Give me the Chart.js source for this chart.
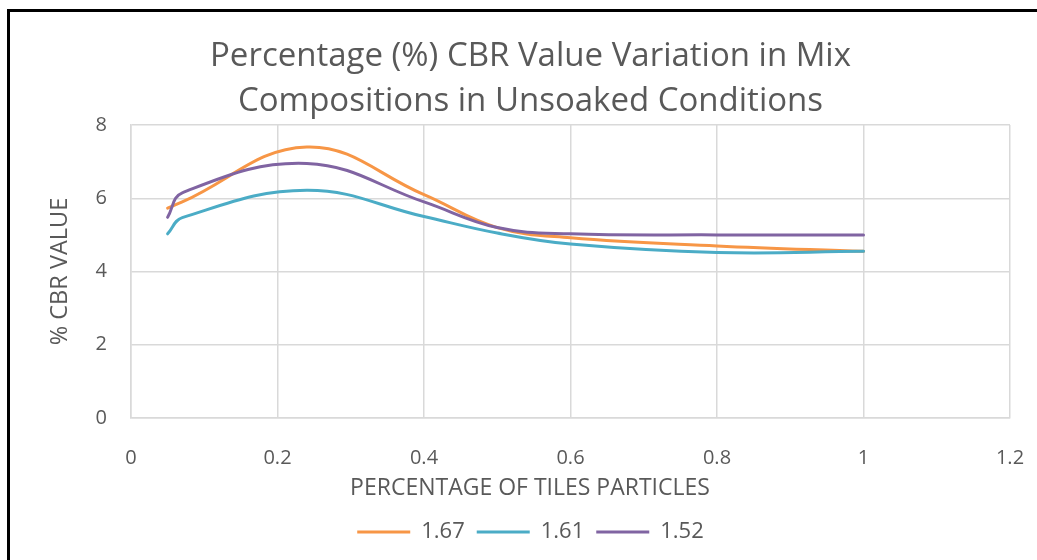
<!DOCTYPE html>
<html>
<head>
<meta charset="utf-8">
<script src="https://cdn.jsdelivr.net/npm/chart.js@4.4.1/dist/chart.umd.min.js"></script>
<style>
    html, body { margin: 0; padding: 0; background: #fff; }
    .wrap { position: relative; width: 1037px; height: 560px; overflow: hidden; }
    .frame { position: absolute; left: 7px; top: 9px; width: 1100px; height: 600px;
             border-top: 3px solid #000; border-left: 3px solid #000; }
    canvas { position: absolute; left: 0; top: 0; }
</style>
</head>
<body>
<div class="wrap">
    <div class="frame"></div>
    <canvas id="chart" width="1037" height="560"></canvas>
</div>
<script>
const TEXT_COLOR = '#595959';
const GRID_COLOR = '#D9D9D9';
const FONT = "'Open Sans', 'Noto Sans', sans-serif";

// % of tiles particles
const tilesPct = [0.05, 0.07, 0.24, 0.4, 0.5, 0.6, 0.8, 1.0];
const cbr167 = [5.73, 5.9, 7.4, 6.1, 5.2, 4.92, 4.7, 4.55];
const cbr161 = [5.03, 5.47, 6.22, 5.5, 5.05, 4.75, 4.52, 4.55];
const cbr152 = [5.48, 6.15, 6.95, 5.9, 5.2, 5.03, 5.0, 5.0];
const seriesNames = ['1.67', '1.61', '1.52'];
const seriesColors = ['#F79646', '#4BACC6', '#8064A2'];
const xTickLabels = ['0', '0.2', '0.4', '0.6', '0.8', '1', '1.2'];
const yTickLabels = ['0', '2', '4', '6', '8'];
const X_TITLE = 'PERCENTAGE OF TILES PARTICLES';

const toPoints = values => values.map((v, i) => ({x: tilesPct[i], y: v}));

const datasets = [cbr167, cbr161, cbr152].map((values, i) => ({
    label: seriesNames[i],
    data: toPoints(values),
    borderColor: seriesColors[i],
    backgroundColor: seriesColors[i],
    borderWidth: 3,
    borderCapStyle: 'round',
    showLine: true,
    pointRadius: 0,
    tension: 0.4,
    order: 3 - i,
}));

// x axis title is centred on the whole figure (like Excel), not on the scale
const xTitlePlugin = {
    id: 'xTitle',
    afterDraw(chart) {
        const ctx = chart.ctx;
        ctx.save();
        ctx.fillStyle = TEXT_COLOR;
        ctx.font = `23px ${FONT}`;
        ctx.textAlign = 'center';
        ctx.textBaseline = 'middle';
        ctx.fillText(X_TITLE, 530, 488);
        ctx.restore();
    }
};

new Chart(document.getElementById('chart'), {
    type: 'scatter',
    data: {datasets},
    plugins: [xTitlePlugin],
    options: {
        responsive: false,
        animation: false,
        layout: {padding: {left: 0, right: -24, top: 0, bottom: 7}},
        plugins: {
            title: {
                display: true,
                text: ['Percentage (%) CBR Value Variation in Mix', 'Compositions in Unsoaked Conditions'],
                color: TEXT_COLOR,
                font: {family: FONT, size: 33, weight: 'normal', lineHeight: 1.364},
                padding: {top: 34, bottom: 1},
            },
            legend: {
                position: 'bottom',
                labels: {
                    color: TEXT_COLOR,
                    font: {family: FONT, size: 22},
                    usePointStyle: true,
                    pointStyle: 'line',
                    pointStyleWidth: 53,
                    boxWidth: 53,
                    boxHeight: 16,
                    padding: 12,
                    sort: (a, b) => a.datasetIndex - b.datasetIndex,
                },
            },
            tooltip: {enabled: false},
        },
        scales: {
            x: {
                type: 'linear',
                min: 0,
                max: 1.2,
                ticks: {
                    stepSize: 0.2,
                    color: TEXT_COLOR,
                    font: {family: FONT, size: 20},
                    padding: 28.5,
                    callback: (v, i) => xTickLabels[i],
                },
                grid: {color: GRID_COLOR, lineWidth: 1.5, drawTicks: false},
                border: {color: GRID_COLOR, width: 1.5},
                afterFit: scale => {
                    scale.height = 91;
                    scale.paddingLeft = 0;
                    scale.paddingRight = 27;
                },
            },
            y: {
                min: 0,
                max: 8,
                ticks: {
                    stepSize: 2,
                    color: TEXT_COLOR,
                    font: {family: FONT, size: 20},
                    padding: 24,
                    callback: (v, i) => yTickLabels[i],
                },
                grid: {color: GRID_COLOR, lineWidth: 1.5, drawTicks: false},
                border: {color: GRID_COLOR, width: 1.5},
                title: {
                    display: true,
                    text: '% CBR VALUE',
                    color: TEXT_COLOR,
                    font: {family: FONT, size: 23.5},
                    padding: {top: 46, bottom: 0},
                },
                afterFit: scale => { scale.width = 131; },
            },
        },
    },
});
</script>
</body>
</html>
